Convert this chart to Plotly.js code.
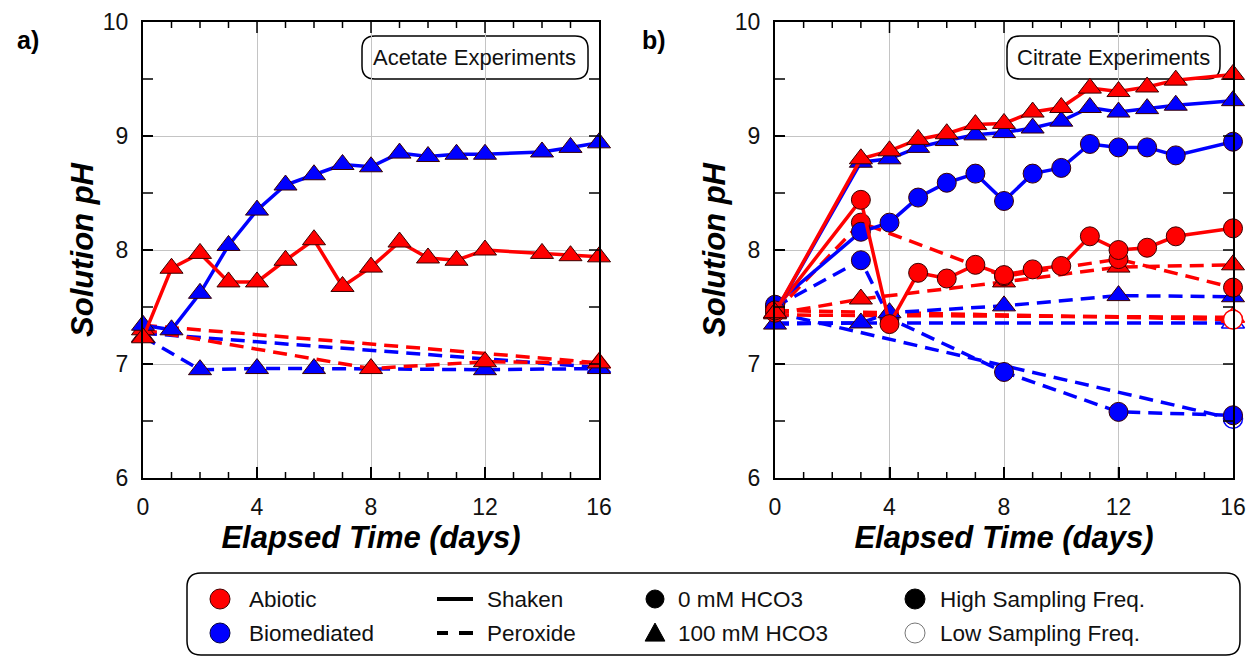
<!DOCTYPE html>
<html><head><meta charset="utf-8">
<script src="https://cdn.plot.ly/plotly-3.0.1.min.js"></script>
<style>html,body{margin:0;padding:0;background:#fff;}#chart{width:1249px;height:657px;}</style>
</head><body><div id="chart"></div>
<script>
// ---------- Panel a: Acetate experiments ----------
const aDaysShaken      = [0,1,2,3,4,5,6,7,8,9,10,11,12,14,15,16];
const aAbioShaken100   = [7.23,7.84,7.97,7.72,7.72,7.91,8.09,7.68,7.85,8.07,7.93,7.91,8.00,7.97,7.95,7.94];
const aBioShaken100    = [7.34,7.30,7.62,8.04,8.35,8.57,8.66,8.75,8.73,8.85,8.82,8.84,8.84,8.86,8.90,8.94];
const aDaysBioPerox    = [0,2,4,6,12,16];
const aBioPerox100     = [7.24,6.95,6.96,6.96,6.95,6.96];
const aDaysAbioPerox   = [0,8,12,16];
const aAbioPerox100    = [7.30,6.96,7.02,7.01];
const aDaysLow         = [0,16];
const aAbioPeroxLow100 = [7.34,7.01];
const aBioPeroxLow100  = [7.27,6.97];

// ---------- Panel b: Citrate experiments ----------
const bDaysShaken      = [0,3,4,5,6,7,8,9,10,11,12,13,14,16];
const bAbioShaken100   = [7.45,8.80,8.87,8.97,9.02,9.10,9.11,9.21,9.25,9.42,9.39,9.43,9.49,9.54];
const bBioShaken100    = [7.45,8.77,8.80,8.90,8.96,9.01,9.03,9.07,9.13,9.25,9.21,9.24,9.27,9.31];
const bBioShaken0      = [7.52,8.16,8.24,8.46,8.59,8.67,8.43,8.67,8.72,8.93,8.90,8.90,8.83,8.95];
const bAbioShaken0     = [7.47,8.44,7.35,7.80,7.75,7.87,7.78,7.83,7.86,8.12,8.00,8.02,8.12,8.19];
const bDaysAbioPerox   = [0,3,8,12,16];
const bAbioPerox0      = [7.45,8.24,7.77,7.92,7.67];
const bAbioPerox100    = [7.44,7.57,7.72,7.85,7.87];
const bDaysBioPerox    = [0,3,4,8,12,16];
const bBioPerox0       = [7.50,7.91,7.40,6.93,6.58,6.55];
const bBioPerox100     = [7.35,7.36,7.45,7.51,7.60,7.59];
const bDaysLow         = [0,16];
const bAbioPeroxLow0   = [7.47,7.39];
const bAbioPeroxLow100 = [7.43,7.41];
const bBioPeroxLow0    = [7.45,6.52];
const bBioPeroxLow100  = [7.36,7.36];

// axis ticks
const xRange = [0,16], xStep = 4, xMinorStep = 1;
const yRange = [6,10], yStep = 1, yMinorStep = 0.5;

const RED = '#ff0000', BLUE = '#0000ff';
const FONT = 'Liberation Sans, Arial, Helvetica, sans-serif';
const DASH = '14px,8px';

function tr(ax, x, y, color, dash, symbol, low){
  const isTri = symbol === 'triangle-up';
  const m = {
    symbol: symbol,
    size: isTri ? 20 : 19,
    color: low ? '#ffffff' : color,
    line: {color: low ? color : '#3a0000', width: low ? 1.5 : 1}
  };
  if (low) m.opacity = y.map((v,i)=> i === y.length-1 ? 1 : 0);
  return {
    type:'scatter', mode:'lines+markers', x:x, y:y,
    xaxis: ax === 'a' ? 'x' : 'x2', yaxis: ax === 'a' ? 'y' : 'y2',
    line:{color:color, width:3.5, dash: dash ? DASH : 'solid'},
    marker:m, cliponaxis:false, showlegend:false
  };
}

const data = [
  tr('a', aDaysLow, aBioPeroxLow100, BLUE, true, 'triangle-up', true),
  tr('a', aDaysLow, aAbioPeroxLow100, RED, true, 'triangle-up', true),
  tr('a', aDaysBioPerox, aBioPerox100, BLUE, true, 'triangle-up', false),
  tr('a', aDaysAbioPerox, aAbioPerox100, RED, true, 'triangle-up', false),
  tr('a', aDaysShaken, aBioShaken100, BLUE, false, 'triangle-up', false),
  tr('a', aDaysShaken, aAbioShaken100, RED, false, 'triangle-up', false),
  tr('b', bDaysLow, bBioPeroxLow0, BLUE, true, 'circle', true),
  tr('b', bDaysLow, bBioPeroxLow100, BLUE, true, 'triangle-up', true),
  tr('b', bDaysLow, bAbioPeroxLow100, RED, true, 'triangle-up', true),
  tr('b', bDaysLow, bAbioPeroxLow0, RED, true, 'circle', true),
  tr('b', bDaysBioPerox, bBioPerox0, BLUE, true, 'circle', false),
  tr('b', bDaysBioPerox, bBioPerox100, BLUE, true, 'triangle-up', false),
  tr('b', bDaysAbioPerox, bAbioPerox100, RED, true, 'triangle-up', false),
  tr('b', bDaysAbioPerox, bAbioPerox0, RED, true, 'circle', false),
  tr('b', bDaysShaken, bBioShaken0, BLUE, false, 'circle', false),
  tr('b', bDaysShaken, bAbioShaken0, RED, false, 'circle', false),
  tr('b', bDaysShaken, bBioShaken100, BLUE, false, 'triangle-up', false),
  tr('b', bDaysShaken, bAbioShaken100, RED, false, 'triangle-up', false)
];

const W = 1249, H = 657;
const PX = v => v / W, PY = v => 1 - v / H;
const PLOT_L = [143, 775], PLOT_R = [599, 1233], PLOT_T = 22, PLOT_B = 478;
function titleFont(){ return {family:FONT, size:31, color:'#000', weight:'bold', style:'italic'}; }

function xAxis(d0, d1, anchor){
  return {
    domain:[PX(d0), PX(d1)], anchor:anchor, range:xRange,
    tickmode:'linear', tick0:xRange[0], dtick:xStep,
    ticks:'inside', ticklen:11, tickwidth:1.5, tickcolor:'#000',
    showline:true, linecolor:'#000', linewidth:2, mirror:true,
    showgrid:true, gridcolor:'#c4c4c4', gridwidth:1, zeroline:false,
    tickfont:{family:FONT, size:23, color:'#111'}, ticklabelstandoff:7,
    title:{text:'Elapsed Time (days)', font:titleFont(), standoff:6},
    automargin:false
  };
}
function yAxis(anchor){
  return {
    domain:[PY(PLOT_B), PY(PLOT_T)], anchor:anchor, range:yRange,
    tickmode:'linear', tick0:yRange[0], dtick:yStep,
    ticks:'inside', ticklen:10, tickwidth:1.5, tickcolor:'#000',
    showline:true, linecolor:'#000', linewidth:2, mirror:true,
    showgrid:true, gridcolor:'#c4c4c4', gridwidth:1, zeroline:false,
    tickfont:{family:FONT, size:23, color:'#111'}, ticklabelstandoff:8,
    title:{text:'Solution pH', font:titleFont(), standoff:0},
    automargin:false
  };
}

function rr(x0,y0,x1,y1,r){
  const X = v => PX(v).toFixed(5), Y = v => PY(v).toFixed(5);
  return 'M'+X(x0+r)+','+Y(y0)+' L'+X(x1-r)+','+Y(y0)+' Q'+X(x1)+','+Y(y0)+' '+X(x1)+','+Y(y0+r)+
         ' L'+X(x1)+','+Y(y1-r)+' Q'+X(x1)+','+Y(y1)+' '+X(x1-r)+','+Y(y1)+
         ' L'+X(x0+r)+','+Y(y1)+' Q'+X(x0)+','+Y(y1)+' '+X(x0)+','+Y(y1-r)+
         ' L'+X(x0)+','+Y(y0+r)+' Q'+X(x0)+','+Y(y0)+' '+X(x0+r)+','+Y(y0)+' Z';
}
function circ(cx,cy,r,fill,lc,lw){
  return {type:'circle', xref:'paper', yref:'paper', x0:PX(cx-r), x1:PX(cx+r), y0:PY(cy+r), y1:PY(cy-r),
          fillcolor:fill, line:{color:lc, width:lw}, layer:'above'};
}
function seg(x0,x1,y,w){
  return {type:'line', xref:'paper', yref:'paper', x0:PX(x0), x1:PX(x1), y0:PY(y), y1:PY(y), line:{color:'#000', width:w}, layer:'above'};
}
function tri(cx,cy,s){
  const X = v => PX(v).toFixed(5), Y = v => PY(v).toFixed(5);
  return {type:'path', xref:'paper', yref:'paper', layer:'above',
    path:'M'+X(cx-s*0.55)+','+Y(cy+s*0.45)+' L'+X(cx+s*0.55)+','+Y(cy+s*0.45)+' L'+X(cx)+','+Y(cy-s*0.55)+' Z',
    fillcolor:'#000', line:{color:'#000', width:1}};
}

// tick marks (inside, on all four sides) built from the axis ranges and steps
function tickShapes(){
  const out = [];
  const pxPerX = (PLOT_R[0]-PLOT_L[0]) / (xRange[1]-xRange[0]);
  const pxPerY = (PLOT_B-PLOT_T) / (yRange[1]-yRange[0]);
  [['x','y'],['x2','y2']].forEach(([xr,yr]) => {
    for (let d = xRange[0]; d <= xRange[1] + 1e-9; d += xMinorStep) {
      if (d === xRange[0] || d === xRange[1]) continue;
      const len = (Math.abs(d % xStep) < 1e-9 ? 11 : 6) / pxPerY;
      out.push({type:'line', xref:xr, yref:yr, x0:d, x1:d, y0:yRange[0], y1:yRange[0]+len, line:{color:'#000', width:1.5}, layer:'above'});
      out.push({type:'line', xref:xr, yref:yr, x0:d, x1:d, y0:yRange[1], y1:yRange[1]-len, line:{color:'#000', width:1.5}, layer:'above'});
    }
    for (let v = yRange[0]; v <= yRange[1] + 1e-9; v += yMinorStep) {
      if (v === yRange[0] || v === yRange[1]) continue;
      const len = 10 / pxPerX;
      out.push({type:'line', xref:xr, yref:yr, x0:xRange[0], x1:xRange[0]+len, y0:v, y1:v, line:{color:'#000', width:1.5}, layer:'above'});
      out.push({type:'line', xref:xr, yref:yr, x0:xRange[1], x1:xRange[1]-len, y0:v, y1:v, line:{color:'#000', width:1.5}, layer:'above'});
    }
  });
  return out;
}

const shapes = [
  {type:'path', xref:'paper', yref:'paper', path:rr(362,36,588,79,13), fillcolor:'#fff', line:{color:'#000', width:1.5}, layer:'between'},
  {type:'path', xref:'paper', yref:'paper', path:rr(1007,36,1220,79,13), fillcolor:'#fff', line:{color:'#000', width:1.5}, layer:'between'},
  {type:'path', xref:'paper', yref:'paper', path:rr(187,573,1240,655,14), fillcolor:'#fff', line:{color:'#000', width:1.5}, layer:'above'},
  circ(220,599,10,RED,'#400',1),
  circ(220,633,10,BLUE,'#004',1),
  seg(437,473,599,4),
  seg(437,448,633,4), seg(459,473,633,4),
  circ(655,599,9,'#000','#000',1),
  tri(655,633,18),
  circ(915,599,10,'#000','#000',1),
  circ(915,633,10,'#fff','#777',1)
].concat(tickShapes());

function txt(x,y,t,size,opts){
  return Object.assign({xref:'paper', yref:'paper', x:PX(x), y:PY(y), text:t, showarrow:false,
    xanchor:'left', yanchor:'middle', font:{family:FONT, size:size, color:'#111'}}, opts||{});
}
const annotations = [
  txt(15,40,'a)',25,{font:{family:FONT, size:25, color:'#000', weight:'bold'}}),
  txt(640,40,'b)',25,{font:{family:FONT, size:25, color:'#000', weight:'bold'}}),
  txt(475,57,'Acetate Experiments',22,{xanchor:'center'}),
  txt(1113,57,'Citrate Experiments',22,{xanchor:'center'}),
  txt(247,599,'Abiotic',22.5),
  txt(247,633,'Biomediated',22.5),
  txt(485,599,'Shaken',22.5),
  txt(485,633,'Peroxide',22.5),
  txt(676,599,'0 mM HCO3',22.5),
  txt(676,633,'100 mM HCO3',22.5),
  txt(938,599,'High Sampling Freq.',22.5),
  txt(938,633,'Low Sampling Freq.',22.5)
];

const layout = {
  width:W, height:H, margin:{l:0, r:0, t:0, b:0},
  xaxis: xAxis(PLOT_L[0],PLOT_R[0],'y'),
  yaxis: yAxis('x'),
  xaxis2: xAxis(PLOT_L[1],PLOT_R[1],'y2'),
  yaxis2: yAxis('x2'),
  shapes:shapes, annotations:annotations,
  showlegend:false
};

Plotly.newPlot('chart', data, layout, {displayModeBar:false});
</script>
</body></html>
